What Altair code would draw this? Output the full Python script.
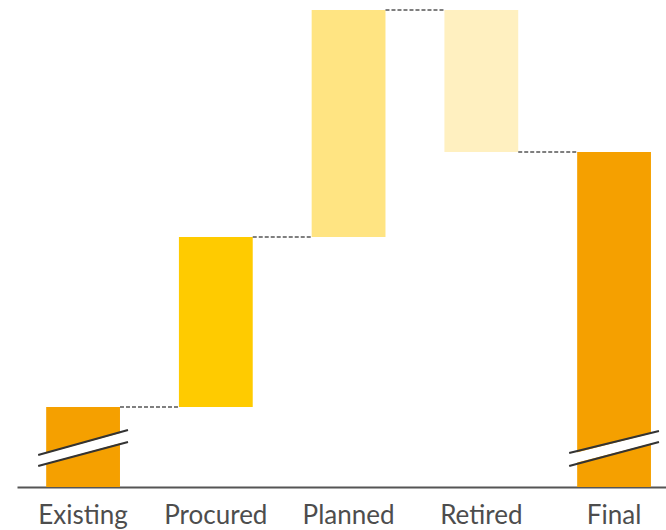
import altair as alt
import pandas as pd

# Waterfall data (values in arbitrary units; the axis is broken on Existing/Final)
categories = ["Existing", "Procured", "Planned", "Retired", "Final"]
bar_start = [0, 80, 250, 477, 0]
bar_end = [80, 250, 477, 335, 335]
bar_colors = ["#F5A000", "#FFCB00", "#FFE482", "#FFF0C0", "#F5A000"]

# connectors between consecutive bars
conn_from = ["Existing", "Procured", "Planned", "Retired"]
conn_to = ["Procured", "Planned", "Retired", "Final"]
conn_level = [80, 250, 477, 335]

# axis-break marks (value at left and right end of the slanted pair)
break_cats = ["Existing", "Final"]
break_upper_left = [32, 34]
break_upper_right = [57, 56]
break_lower_left = [21, 21]
break_lower_right = [45, 45]

bars = pd.DataFrame({"cat": categories, "start": bar_start, "end": bar_end, "color": bar_colors})
conns = pd.DataFrame({"from": conn_from, "to": conn_to, "level": conn_level})
breaks = pd.DataFrame({
    "cat": break_cats,
    "ul": break_upper_left, "ur": break_upper_right,
    "ll": break_lower_left, "lr": break_lower_right,
})
breaks["ml"] = (breaks["ul"] + breaks["ll"]) / 2
breaks["mr"] = (breaks["ur"] + breaks["lr"]) / 2

xscale = alt.Scale(domain=categories, paddingInner=0.444, paddingOuter=0.1665, align=0.66)
yscale = alt.Scale(domain=[0, 487], nice=False, zero=False)

xaxis = alt.Axis(title=None, labelAngle=0, ticks=False, grid=False, domain=True,
                 domainColor="#555555", domainWidth=2, labelFont="Lato", labelFontSize=26,
                 labelFontWeight="normal", labelColor="#4d4d4d", labelPadding=15)

bar_layer = alt.Chart(bars).mark_bar().encode(
    x=alt.X("cat:N", scale=xscale, axis=xaxis, sort=categories),
    y=alt.Y("start:Q", scale=yscale, axis=None),
    y2="end:Q",
    color=alt.Color("color:N", scale=None),
)

conn_layer = alt.Chart(conns).mark_rule(color="#555555", strokeWidth=1.5, strokeDash=[4, 2]).encode(
    x=alt.X("from:N", scale=xscale, bandPosition=1, sort=categories),
    x2=alt.X2("to:N", bandPosition=0),
    y=alt.Y("level:Q", scale=yscale, axis=None),
)

white_band = alt.Chart(breaks).mark_rule(color="white", strokeWidth=10, xOffset=-8, x2Offset=8).encode(
    x=alt.X("cat:N", scale=xscale, bandPosition=0, sort=categories),
    x2=alt.X2("cat:N", bandPosition=1),
    y=alt.Y("ml:Q", scale=yscale, axis=None),
    y2="mr:Q",
)
upper_line = alt.Chart(breaks).mark_rule(color="#333333", strokeWidth=2, xOffset=-8, x2Offset=8).encode(
    x=alt.X("cat:N", scale=xscale, bandPosition=0, sort=categories),
    x2=alt.X2("cat:N", bandPosition=1),
    y=alt.Y("ul:Q", scale=yscale, axis=None),
    y2="ur:Q",
)
lower_line = alt.Chart(breaks).mark_rule(color="#333333", strokeWidth=2, xOffset=-8, x2Offset=8).encode(
    x=alt.X("cat:N", scale=xscale, bandPosition=0, sort=categories),
    x2=alt.X2("cat:N", bandPosition=1),
    y=alt.Y("ll:Q", scale=yscale, axis=None),
    y2="lr:Q",
)

chart = alt.layer(bar_layer, conn_layer, white_band, upper_line, lower_line).properties(
    width=649, height=487,
    background="white",
    autosize=alt.AutoSizeParams(type="none"),
    padding={"left": 17, "top": 0, "right": 0, "bottom": 43},
).configure_view(stroke=None, strokeWidth=0)

chart.save("out.html", embed_options={"renderer": "svg", "actions": False})
